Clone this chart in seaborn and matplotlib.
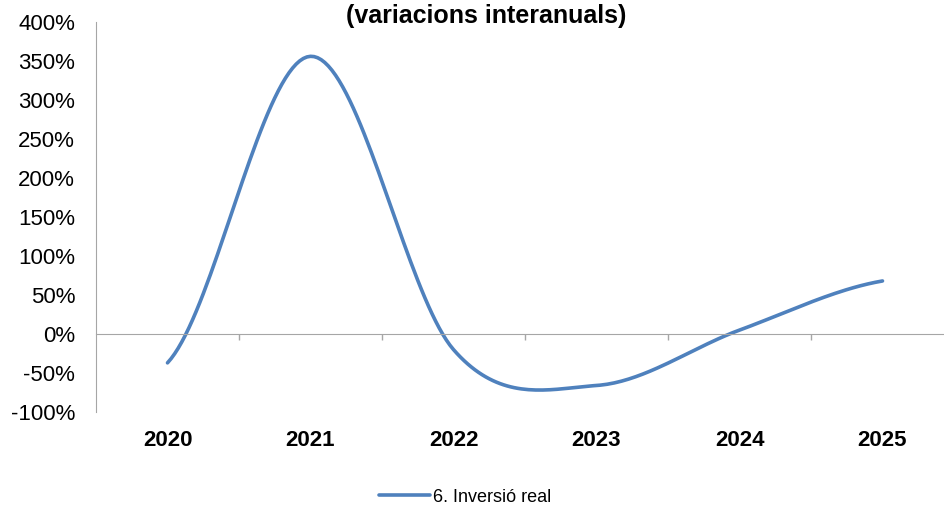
import numpy as np
import pandas as pd
import seaborn as sns
import matplotlib.pyplot as plt
from matplotlib.ticker import FixedLocator, PercentFormatter

years = ['2020', '2021', '2022', '2023', '2024', '2025']
inversio_real = [-37, 356, -20, -66, 5, 68]
series_name = '6. Inversió real'
title = '(variacions interanuals)'
y_ticks = [-100, -50, 0, 50, 100, 150, 200, 250, 300, 350, 400]


def smooth_line(vals, n=40):
    # excel style smoothed line (catmull-rom through the points)
    p = np.asarray(vals, dtype=float)
    ext = np.r_[p[0], p, p[-1]]
    xs, ys = [], []
    for i in range(len(p) - 1):
        p0, p1, p2, p3 = ext[i], ext[i + 1], ext[i + 2], ext[i + 3]
        m1 = (p2 - p0) / 2
        m2 = (p3 - p1) / 2
        t = np.linspace(0, 1, n, endpoint=(i == len(p) - 2))
        h00 = 2 * t**3 - 3 * t**2 + 1
        h10 = t**3 - 2 * t**2 + t
        h01 = -2 * t**3 + 3 * t**2
        h11 = t**3 - t**2
        xs.append(i + t)
        ys.append(h00 * p1 + h10 * m1 + h01 * p2 + h11 * m2)
    return np.concatenate(xs), np.concatenate(ys)


sns.set_style('white')
plt.rcParams['font.family'] = ['Liberation Sans', 'DejaVu Sans']
plt.rcParams['axes.unicode_minus'] = False
plt.rcParams['text.color'] = 'black'

cx, cy = smooth_line(inversio_real)
df = pd.DataFrame({'pos': cx, 'value': cy, 'serie': series_name})

fig = plt.figure(figsize=(9.44, 5.05), dpi=100)
ax = fig.add_axes([96 / 944, 1 - 412 / 505, 858 / 944, 390 / 505])

sns.lineplot(data=df, x='pos', y='value', hue='serie', sort=False,
             palette=['#4F81BD'], linewidth=2.6, ax=ax, legend=False)

ax.set_xlim(-0.5, 5.5)
ax.set_ylim(-100, 400)
ax.set_xlabel('')
ax.set_ylabel('')

ax.yaxis.set_major_locator(FixedLocator(y_ticks))
ax.yaxis.set_major_formatter(PercentFormatter(decimals=0))
ax.tick_params(axis='y', length=0, pad=15, labelsize=16, labelcolor='black')

# category axis sits on the zero line, labels stay at the bottom
ax.spines['bottom'].set_position(('data', 0))
ax.spines['bottom'].set_color('#A6A6A6')
ax.spines['left'].set_color('#A6A6A6')
ax.spines['top'].set_visible(False)
ax.spines['right'].set_visible(False)
ax.set_xticks(range(len(years)))
ax.set_xticklabels(years, fontweight='bold')
ax.set_xticks(np.arange(0.5, len(years) - 0.5, 1), minor=True)
ax.tick_params(axis='x', which='major', length=0, pad=69, labelsize=16,
               labelcolor='black')
ax.tick_params(axis='x', which='minor', length=4, width=1, color='#A6A6A6',
               direction='out', bottom=True)

fig.text(486 / 944, 1 - 16 / 505, title, ha='center', va='center',
         fontsize=18, fontweight='bold', color='black')

handle = plt.Line2D([], [], color='#4F81BD', linewidth=2.6)
fig.legend([handle], [series_name], loc='center',
           bbox_to_anchor=(465 / 944, 1 - 497 / 505), frameon=False,
           fontsize=13, handlelength=2.8, handletextpad=0.15)

fig.savefig('out.png', dpi=100)
